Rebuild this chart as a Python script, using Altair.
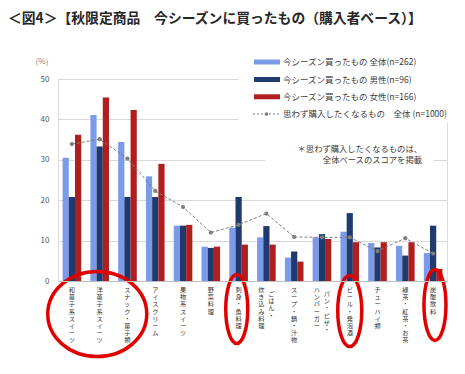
import altair as alt
import pandas as pd

# ---------------- data ----------------
categories = ["和菓子系スイーツ", "洋菓子系スイーツ", "スナック・菓子類", "アイスクリーム",
              "果物系スイーツ", "野菜料理", "刺身・魚料理", "ごはん・炊き込み料理",
              "スープ・鍋・汁物", "パン・ピザ・ハンバーガー", "ビール・発泡酒",
              "チューハイ類", "緑茶・紅茶・お茶", "炭酸飲料"]
# vertical label columns (right column first, as in vertical Japanese text)
label_col1 = ["和菓子系スイーツ", "洋菓子系スイーツ", "スナック・菓子類", "アイスクリーム",
              "果物系スイーツ", "野菜料理", "刺身・魚料理", "ごはん・",
              "スープ・鍋・汁物", "パン・ピザ・", "ビール・発泡酒",
              "チューハイ類", "緑茶・紅茶・お茶", "炭酸飲料"]
label_col2 = ["", "", "", "", "", "", "", "炊き込み料理", "", "ハンバーガー", "", "", "", ""]

series = ["今シーズン買ったもの 全体(n=262)", "今シーズン買ったもの 男性(n=96)",
          "今シーズン買ったもの 女性(n=166)"]
line_name = "思わず購入したくなるもの　全体 (n=1000)"

overall = [30.5, 41.1, 34.4, 25.9, 13.7, 8.5, 13.2, 10.8, 5.8, 10.8, 12.2, 9.4, 8.7, 6.9]
male    = [20.8, 33.3, 20.8, 20.8, 13.7, 8.2, 20.8, 13.6, 7.3, 11.6, 16.8, 8.3, 6.3, 13.7]
female  = [36.2, 45.4, 42.3, 29.0, 13.9, 8.5, 9.0, 9.0, 4.8, 10.4, 9.6, 9.6, 9.6, 3.0]
want    = [33.9, 35.1, 30.3, 22.3, 18.3, 12.0, 13.9, 16.7, 10.9, 10.8, 10.8, 7.4, 10.6, 6.8]

title_text = "＜図4＞【秋限定商品　今シーズンに買ったもの（購入者ベース）】"
note_lines = ["＊思わず購入したくなるものは、", "全体ベースのスコアを掲載"]

# circled categories (annotation ellipses)
circled = ["洋菓子系スイーツ", "刺身・魚料理", "ビール・発泡酒", "炭酸飲料"]

# ---------------- styles ----------------
colors = ["#7b9ae8", "#1f3a6e", "#b01f1f"]
line_color = "#7f7f7f"
FONT = "Noto Sans CJK JP"
W, H = 389, 202
LFS, LLH = 6.2, 7.2  # category label font size / line pitch

bars_df = pd.DataFrame(
    [{"cat": c, "series": s, "value": v}
     for s, vals in zip(series, [overall, male, female])
     for c, v in zip(categories, vals)]
)
line_df = pd.DataFrame({"cat": categories, "value": want})
lab_df = pd.DataFrame({
    "cat": categories,
    "t1": ["\n".join(list(s)) for s in label_col1],
    "t2": ["\n".join(list(s)) for s in label_col2],
})
one = pd.DataFrame({"k": [0]})

xscale = alt.Scale(paddingInner=0.33, paddingOuter=0.165)
X = alt.X("cat:N", sort=categories, scale=xscale,
          axis=alt.Axis(labels=False, ticks=False, title=None, domainColor="#bfbfbf",
                        grid=False, zindex=1))
Y = alt.Y("value:Q", scale=alt.Scale(domain=[0, 50], nice=False),
          axis=alt.Axis(values=list(range(0, 51, 5)), title=None, ticks=False,
                        domain=False, gridColor="#d9d9d9", labelColor="#595959",
                        labelFontSize=8, labelPadding=9, labelFont=FONT, zindex=0))

bars = alt.Chart(bars_df).mark_bar().encode(
    x=X,
    xOffset=alt.XOffset("series:N", sort=series,
                        scale=alt.Scale(paddingInner=0, paddingOuter=0)),
    y=Y,
    color=alt.Color("series:N", scale=alt.Scale(domain=series, range=colors), legend=None),
)

line = alt.Chart(line_df).mark_line(color=line_color, strokeDash=[3, 2], strokeWidth=1).encode(
    x=alt.X("cat:N", sort=categories), y="value:Q")
pts = alt.Chart(line_df).mark_point(filled=True, color=line_color, size=18, opacity=1).encode(
    x=alt.X("cat:N", sort=categories), y="value:Q")

# white boxes behind legend and note (hide gridlines as in reference)
legend_bg = alt.Chart(one).mark_rect(color="white").encode(
    x=alt.value(181), x2=alt.value(W + 1), y=alt.value(-28), y2=alt.value(44))
note_bg = alt.Chart(one).mark_rect(color="white").encode(
    x=alt.value(207), x2=alt.value(375), y=alt.value(54), y2=alt.value(88))

layers = [bars, legend_bg, note_bg, line, pts]

# legend
rows_y = [-17, 0.5, 17.8, 35]
for i, s in enumerate(series):
    layers.append(alt.Chart(one).mark_rect(color=colors[i]).encode(
        x=alt.value(196), x2=alt.value(222),
        y=alt.value(rows_y[i] - 2.5), y2=alt.value(rows_y[i] + 2.5)))
    layers.append(alt.Chart(one).mark_text(
        align="left", baseline="middle", font=FONT, fontSize=8.5, color="#404040").encode(
        x=alt.value(225), y=alt.value(rows_y[i]), text=alt.value(s)))
layers.append(alt.Chart(one).mark_rule(color=line_color, strokeDash=[2, 2], strokeWidth=1).encode(
    x=alt.value(195), x2=alt.value(222), y=alt.value(rows_y[3])))
layers.append(alt.Chart(one).mark_point(filled=True, color=line_color, size=14, opacity=1).encode(
    x=alt.value(208.5), y=alt.value(rows_y[3])))
layers.append(alt.Chart(one).mark_text(
    align="left", baseline="middle", font=FONT, fontSize=8.5, color="#404040").encode(
    x=alt.value(225), y=alt.value(rows_y[3]), text=alt.value(line_name)))

# note
for j, t in enumerate(note_lines):
    layers.append(alt.Chart(one).mark_text(
        align="right", baseline="middle", font=FONT, fontSize=8.3, color="#404040").encode(
        x=alt.value(364), y=alt.value(71 + j * 11), text=alt.value(t)))

# y-axis unit
layers.append(alt.Chart(one).mark_text(
    align="center", baseline="middle", font=FONT, fontSize=8, color="#7f7f7f").encode(
    x=alt.value(-16), y=alt.value(-17), text=alt.value("(%)")))

# category labels (vertical)
layers.append(alt.Chart(lab_df).mark_text(
    align="center", baseline="top", lineBreak="\n", lineHeight=LLH, font=FONT,
    fontSize=LFS, color="#333333").encode(
    x=alt.X("cat:N", sort=categories), y=alt.value(208), text="t1:N")
    .transform_filter("datum.t2 == ''"))
layers.append(alt.Chart(lab_df).mark_text(
    align="center", baseline="top", lineBreak="\n", lineHeight=LLH, font=FONT,
    fontSize=LFS, color="#333333", dx=5).encode(
    x=alt.X("cat:N", sort=categories), y=alt.value(212), text="t1:N")
    .transform_filter("datum.t2 != ''"))
layers.append(alt.Chart(lab_df).mark_text(
    align="center", baseline="top", lineBreak="\n", lineHeight=LLH, font=FONT,
    fontSize=LFS, color="#333333", dx=-5).encode(
    x=alt.X("cat:N", sort=categories), y=alt.value(208), text="t2:N")
    .transform_filter("datum.t2 != ''"))

# annotation ellipses
def ellipse_path(ratio):
    k = 0.5523
    b = ratio
    return (f"M -1 0 C -1 {-k*b:.4f} {-k:.4f} {-b:.4f} 0 {-b:.4f} "
            f"C {k:.4f} {-b:.4f} 1 {-k*b:.4f} 1 0 "
            f"C 1 {k*b:.4f} {k:.4f} {b:.4f} 0 {b:.4f} "
            f"C {-k:.4f} {b:.4f} -1 {k*b:.4f} -1 0 Z")

ell_specs = [  # (category, band position, width, height, center y)
    (circled[0], 0.37, 99, 85, 235),
    (circled[1], 0.4, 22, 69, 230),
    (circled[2], 0.5, 24, 71, 232),
    (circled[3], 0.6, 22, 71, 226),
]
for cat, bp, w, h, cy in ell_specs:
    layers.append(alt.Chart(pd.DataFrame({"cat": [cat]})).mark_point(
        shape=ellipse_path(h / w), size=w * w, filled=False, stroke="#e00000",
        strokeWidth=3.5, opacity=1).encode(
        x=alt.X("cat:N", sort=categories, bandPosition=bp), y=alt.value(cy)))

# title
layers.append(alt.Chart(one).mark_text(
    align="left", baseline="middle", font=FONT, fontSize=13.8, fontWeight="bold",
    color="#262626").encode(
    x=alt.value(-50), y=alt.value(-60), text=alt.value(title_text)))

chart = alt.layer(*layers).properties(
    width=W, height=H,
    autosize=alt.AutoSizeParams(type="none"),
    padding={"left": 50, "top": 71, "right": 10, "bottom": 80},
).configure_view(stroke=None).configure(font=FONT, background="white")

chart.save("out.html", embed_options={"renderer": "svg", "actions": False})
